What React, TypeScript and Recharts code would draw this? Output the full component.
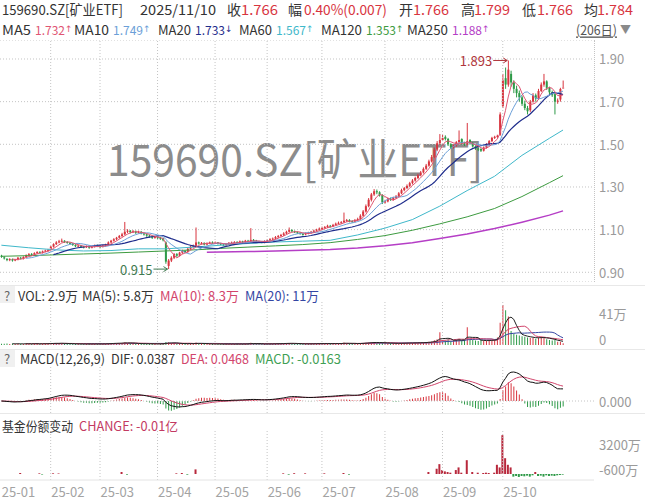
import React from "react";
import { Bar, CartesianGrid, Cell, ComposedChart, Line, ReferenceDot, ReferenceLine, XAxis, YAxis } from "recharts";

// ---- data ----
const monthLabels = ["25-01", "25-02", "25-03", "25-04", "25-05", "25-06", "25-07", "25-08", "25-09", "25-10", "25-11"];
const monthDays = [18, 18, 21, 21, 19, 20, 23, 21, 22, 17, 6];

const open = [
  0.978, 0.970, 0.963, 0.957, 0.962, 0.955, 0.960, 0.968, 0.964, 0.972, 0.980, 0.986, 0.982, 0.990, 0.996, 0.992, 0.998, 1.002,
  1.008, 1.020, 1.032, 1.040, 1.045, 1.048, 1.042, 1.038, 1.035, 1.028, 1.022, 1.025, 1.020, 1.018, 1.022, 1.015, 1.020, 1.025,
  1.022, 1.020, 1.025, 1.030, 1.040, 1.048, 1.055, 1.062, 1.070, 1.078, 1.090, 1.095, 1.088, 1.092, 1.085, 1.090, 1.082, 1.078, 1.072, 1.068, 1.062,
  1.065, 1.060, 1.058, 1.040, 0.930, 0.955, 0.968, 0.985, 0.978, 0.992, 1.000, 0.995, 1.010, 1.020, 1.025, 1.040, 1.035, 1.038, 1.030, 1.035, 1.040,
  1.038, 1.040, 1.035, 1.030, 1.028, 1.032, 1.038, 1.040, 1.042, 1.038, 1.045, 1.042, 1.048, 1.045, 1.052, 1.048, 1.045, 1.042, 1.040,
  1.045, 1.050, 1.055, 1.058, 1.065, 1.070, 1.075, 1.082, 1.090, 1.098, 1.092, 1.088, 1.085, 1.080, 1.078, 1.082, 1.085, 1.090, 1.095, 1.100,
  1.105, 1.108, 1.112, 1.118, 1.115, 1.122, 1.128, 1.132, 1.135, 1.142, 1.145, 1.140, 1.138, 1.145, 1.150, 1.165, 1.185, 1.210, 1.240, 1.265, 1.280, 1.275, 1.262,
  1.228, 1.232, 1.245, 1.240, 1.248, 1.255, 1.270, 1.285, 1.295, 1.305, 1.318, 1.330, 1.342, 1.355, 1.368, 1.385, 1.400, 1.420, 1.440, 1.475, 1.505,
  1.520, 1.535, 1.525, 1.500, 1.485, 1.495, 1.510, 1.525, 1.505, 1.500, 1.520, 1.505, 1.490, 1.480, 1.478, 1.470, 1.485, 1.500, 1.515, 1.530, 1.535, 1.545,
  1.680, 1.810, 1.780, 1.830, 1.790, 1.760, 1.740, 1.720, 1.690, 1.670, 1.660, 1.700, 1.730, 1.715, 1.750, 1.780, 1.795,
  1.765, 1.745, 1.735, 1.700, 1.710, 1.766,
];
const high = [
  0.982, 0.975, 0.966, 0.966, 0.964, 0.963, 0.972, 0.972, 0.975, 0.984, 0.990, 0.990, 0.994, 0.999, 0.998, 1.002, 1.006, 1.010,
  1.024, 1.036, 1.046, 1.052, 1.058, 1.050, 1.046, 1.042, 1.038, 1.032, 1.030, 1.028, 1.024, 1.026, 1.025, 1.024, 1.030, 1.030,
  1.028, 1.028, 1.034, 1.045, 1.052, 1.060, 1.066, 1.075, 1.085, 1.136, 1.102, 1.098, 1.098, 1.096, 1.095, 1.093, 1.086, 1.082, 1.076, 1.072, 1.070,
  1.070, 1.066, 1.062, 1.045, 0.962, 0.975, 0.990, 0.990, 0.996, 1.006, 1.004, 1.014, 1.026, 1.030, 1.110, 1.044, 1.042, 1.040, 1.040, 1.044, 1.045,
  1.044, 1.042, 1.038, 1.034, 1.036, 1.042, 1.044, 1.046, 1.046, 1.049, 1.048, 1.052, 1.052, 1.107, 1.056, 1.052, 1.048, 1.046, 1.050,
  1.054, 1.060, 1.063, 1.070, 1.075, 1.080, 1.088, 1.095, 1.110, 1.102, 1.096, 1.092, 1.089, 1.085, 1.087, 1.090, 1.094, 1.100, 1.104, 1.110,
  1.114, 1.117, 1.123, 1.122, 1.127, 1.133, 1.138, 1.140, 1.180, 1.150, 1.149, 1.144, 1.150, 1.156, 1.172, 1.192, 1.218, 1.248, 1.272, 1.290, 1.288, 1.280, 1.266,
  1.240, 1.250, 1.250, 1.254, 1.262, 1.276, 1.292, 1.300, 1.312, 1.324, 1.337, 1.348, 1.362, 1.375, 1.392, 1.408, 1.428, 1.450, 1.485, 1.515, 1.548,
  1.545, 1.542, 1.530, 1.505, 1.500, 1.515, 1.565, 1.528, 1.512, 1.600, 1.524, 1.510, 1.495, 1.486, 1.482, 1.490, 1.505, 1.520, 1.535, 1.540, 1.545, 1.650,
  1.830, 1.860, 1.893, 1.845, 1.800, 1.775, 1.752, 1.728, 1.705, 1.680, 1.708, 1.740, 1.738, 1.760, 1.790, 1.830, 1.800,
  1.770, 1.752, 1.745, 1.715, 1.765, 1.799,
];
const low = [
  0.968, 0.960, 0.952, 0.952, 0.950, 0.952, 0.956, 0.960, 0.960, 0.968, 0.976, 0.978, 0.978, 0.986, 0.988, 0.988, 0.994, 0.998,
  1.004, 1.016, 1.028, 1.036, 1.040, 1.038, 1.034, 1.030, 1.024, 1.018, 1.018, 1.016, 1.012, 1.014, 1.010, 1.012, 1.016, 1.018,
  1.015, 1.016, 1.020, 1.026, 1.036, 1.044, 1.050, 1.058, 1.066, 1.074, 1.084, 1.082, 1.084, 1.080, 1.082, 1.078, 1.072, 1.066, 1.062, 1.056, 1.058,
  1.055, 1.052, 1.045, 0.940, 0.915, 0.948, 0.962, 0.972, 0.974, 0.986, 0.990, 0.992, 1.006, 1.016, 1.022, 1.030, 1.030, 1.026, 1.026, 1.032, 1.034,
  1.034, 1.030, 1.026, 1.024, 1.025, 1.029, 1.034, 1.036, 1.034, 1.035, 1.038, 1.039, 1.041, 1.042, 1.044, 1.040, 1.038, 1.036, 1.036,
  1.041, 1.046, 1.050, 1.054, 1.060, 1.066, 1.070, 1.078, 1.086, 1.088, 1.084, 1.080, 1.076, 1.072, 1.074, 1.078, 1.081, 1.086, 1.091, 1.096,
  1.100, 1.104, 1.108, 1.110, 1.112, 1.118, 1.124, 1.127, 1.130, 1.136, 1.134, 1.132, 1.134, 1.140, 1.146, 1.160, 1.180, 1.205, 1.232, 1.258, 1.266, 1.255, 1.220,
  1.222, 1.228, 1.235, 1.236, 1.244, 1.252, 1.266, 1.280, 1.290, 1.300, 1.312, 1.325, 1.337, 1.350, 1.363, 1.380, 1.395, 1.415, 1.435, 1.468, 1.498,
  1.515, 1.518, 1.492, 1.478, 1.480, 1.488, 1.502, 1.498, 1.492, 1.495, 1.498, 1.485, 1.474, 1.468, 1.464, 1.466, 1.480, 1.495, 1.510, 1.525, 1.530, 1.540,
  1.670, 1.760, 1.770, 1.770, 1.740, 1.720, 1.700, 1.680, 1.660, 1.640, 1.652, 1.695, 1.700, 1.708, 1.745, 1.770, 1.755,
  1.735, 1.722, 1.640, 1.690, 1.700, 1.766,
];
const close = [
  0.972, 0.965, 0.958, 0.962, 0.955, 0.960, 0.968, 0.965, 0.972, 0.980, 0.985, 0.982, 0.990, 0.995, 0.992, 0.998, 1.002, 1.005,
  1.020, 1.032, 1.040, 1.045, 1.048, 1.042, 1.038, 1.035, 1.028, 1.022, 1.025, 1.020, 1.018, 1.022, 1.015, 1.020, 1.025, 1.022,
  1.020, 1.025, 1.030, 1.040, 1.048, 1.055, 1.062, 1.070, 1.078, 1.090, 1.095, 1.088, 1.092, 1.085, 1.090, 1.082, 1.078, 1.072, 1.068, 1.062, 1.065,
  1.060, 1.058, 1.050, 0.950, 0.955, 0.968, 0.985, 0.978, 0.992, 1.000, 0.995, 1.010, 1.020, 1.025, 1.040, 1.035, 1.038, 1.030, 1.035, 1.040, 1.038,
  1.040, 1.035, 1.030, 1.028, 1.032, 1.038, 1.040, 1.042, 1.038, 1.045, 1.042, 1.048, 1.045, 1.052, 1.048, 1.045, 1.042, 1.040, 1.045,
  1.050, 1.055, 1.058, 1.065, 1.070, 1.075, 1.082, 1.090, 1.098, 1.092, 1.088, 1.085, 1.080, 1.078, 1.082, 1.085, 1.090, 1.095, 1.100, 1.105,
  1.108, 1.112, 1.118, 1.115, 1.122, 1.128, 1.132, 1.135, 1.142, 1.145, 1.140, 1.138, 1.145, 1.150, 1.165, 1.185, 1.210, 1.240, 1.265, 1.280, 1.275, 1.262, 1.228,
  1.232, 1.245, 1.240, 1.248, 1.255, 1.270, 1.285, 1.295, 1.305, 1.318, 1.330, 1.342, 1.355, 1.368, 1.385, 1.400, 1.420, 1.440, 1.475, 1.505, 1.520,
  1.530, 1.525, 1.500, 1.485, 1.495, 1.510, 1.520, 1.505, 1.500, 1.515, 1.505, 1.490, 1.480, 1.475, 1.470, 1.485, 1.500, 1.515, 1.530, 1.535, 1.540, 1.640,
  1.800, 1.780, 1.850, 1.790, 1.760, 1.740, 1.720, 1.690, 1.670, 1.655, 1.700, 1.730, 1.715, 1.750, 1.780, 1.795, 1.765,
  1.744, 1.730, 1.700, 1.705, 1.759, 1.766,
];
const avgPrice = 1.784;

// volume, 万
const volume = [
  2.1, 1.8, 2.4, 1.6, 2.0, 1.5, 2.2, 1.8, 1.6, 2.5, 2.0, 1.7, 2.3, 1.9, 1.6, 2.0, 2.4, 2.2,
  3.0, 2.6, 2.8, 2.4, 3.1, 2.2, 1.9, 1.8, 2.0, 1.7, 1.6, 1.8, 1.5, 1.7, 1.9, 1.6, 1.8, 1.7,
  1.6, 1.8, 2.0, 2.6, 2.8, 3.0, 2.7, 2.9, 3.2, 4.5, 3.3, 2.6, 2.4, 2.2, 2.0, 2.1, 1.9, 2.0, 1.8, 2.0, 1.7,
  1.8, 1.9, 2.2, 4.8, 4.2, 3.0, 2.6, 2.2, 2.4, 2.1, 1.9, 2.0, 2.3, 2.2, 3.8, 2.4, 2.0, 1.8, 1.7, 1.9, 1.6,
  1.7, 1.6, 1.8, 1.5, 1.6, 1.8, 1.7, 1.5, 1.6, 1.9, 1.7, 1.8, 1.9, 3.5, 2.2, 1.8, 1.6, 1.5, 1.7,
  1.9, 2.0, 1.8, 2.2, 2.1, 2.4, 2.6, 2.8, 3.0, 2.4, 2.1, 1.9, 1.8, 1.7, 1.8, 1.9, 2.0, 2.2, 2.1, 2.3,
  2.2, 2.4, 2.3, 2.0, 2.2, 2.5, 2.3, 2.4, 3.8, 2.6, 2.2, 2.0, 2.3, 2.4, 2.8, 3.2, 3.6, 4.0, 4.4, 4.2, 3.6, 3.2, 3.8,
  3.0, 2.8, 2.6, 2.5, 2.7, 2.9, 3.1, 3.0, 3.2, 3.4, 3.3, 3.5, 3.6, 3.8, 4.0, 4.4, 5.0, 5.6, 7.5, 9.0, 20.0,
  8.0, 7.0, 9.0, 6.5, 7.0, 8.0, 10.0, 7.0, 8.0, 28.0, 9.0, 8.0, 7.0, 6.5, 8.0, 7.0, 6.5, 7.0, 8.0, 9.0, 12.0, 35.0,
  63, 55, 45, 22, 18, 16, 15, 14, 13, 12, 11, 12, 10, 12, 13, 12, 9,
  8, 7, 9, 5, 5, 2.9,
];

// fund share change, 万
const fundChange = [
  0, 0, 0, 0, 0, 0, 0, 150, 0, 0, 0, 0, 0, 0, 100, -80, 0, 0,
  0, 100, 0, 80, 0, 0, 0, 0, 0, 0, 0, 0, 0, 0, 0, 0, 0, 0,
  0, 0, 0, 0, 0, 0, 0, 0, 300, 0, -100, 0, 0, 0, 0, 0, 0, 0, 0, 0, 0,
  0, 0, 0, 0, 0, 0, 0, 100, 0, 150, 0, -100, 0, 0, 700, 0, 0, 0, 0, 0, 0,
  0, 0, 0, 0, 0, 0, 0, 0, 0, 0, 0, 0, 0, 0, 0, 0, 0, 0, 0,
  0, 0, 0, 0, 0, 0, 100, 0, -100, 0, 120, 0, 0, 0, 100, 0, 0, 0, 0, 0,
  0, 100, 0, 0, 0, 0, 0, 0, 150, 0, -100, 0, 0, 0, 0, 0, 0, 0, 0, 0, 0, 0, 0,
  0, 0, 0, 0, 0, 0, 0, 0, 0, 0, 0, 0, 0, 0, 0, 0, 300, 0, 0, 800, 1500,
  600, 400, 300, 200, 0, 600, 1000, 200, 0, 2100, 0, 300, 0, 200, 0, 150, 200, 150, 0, 200, 1400, 1000,
  5900, 2400, 1400, 1000, -400, -300, -450, -300, -350, -250, -400, -200, 300, -300, -250, -400, -200,
  -300, -250, -300, -200, -150, -100,
];

// long moving averages, read at sample days (history before Jan is not in the picture)
const maSampleDays = [0, 10, 20, 30, 40, 50, 60, 70, 75, 80, 90, 100, 110, 120, 130, 140, 150, 160, 170, 180, 190, 200, 205];
const ma60Samples = [1.027, 1.015, 1.005, 1.0, 1.002, 1.01, 1.01, 1.018, 1.022, 1.027, 1.035, 1.042, 1.046, 1.05, 1.075, 1.107, 1.147, 1.21, 1.283, 1.35, 1.448, 1.528, 1.567];
const ma120Samples = [0.975, 0.978, 0.982, 0.986, 0.99, 0.995, 1.0, 1.005, 1.008, 1.012, 1.018, 1.024, 1.03, 1.039, 1.054, 1.072, 1.097, 1.127, 1.16, 1.199, 1.255, 1.32, 1.353];
const ma250Samples = [null, null, null, null, null, null, null, null, 0.994, 0.995, 0.997, 1.0, 1.003, 1.007, 1.014, 1.024, 1.038, 1.058, 1.08, 1.105, 1.135, 1.168, 1.188];

const priceTicks = [0.9, 1.1, 1.3, 1.5, 1.7, 1.9];
const macdText = { dif: "0.0387", dea: "0.0468", macd: "-0.0163" };

// ---- layout / style ----
const W = 645;
const AXIS_W = 51;
const PAD_R = 29.6;
const RED = "#d8353f";
const GREEN = "#2e9a48";
const GRID = "#c4c4c4";
const FONT = '"Noto Sans CJK SC", "Noto Sans", sans-serif';
const C = {
  ma5: "#e05573", ma10: "#6b9fd8", ma20: "#1f2d8c", ma60: "#3fb8ca", ma120: "#3d9b40", ma250: "#b53ec6",
  vma10: "#d2456c", vma20: "#3446a3", dea: "#d2456c", text: "#333", axis: "#9a9a9a",
};

// ---- derived table ----
const sum = (a: number[]) => a.reduce((s, v) => s + v, 0);
const sma = (a: number[], n: number, i: number) => (i < n - 1 ? null : sum(a.slice(i - n + 1, i + 1)) / n);
const ema = (a: number[], n: number) => {
  const k = 2 / (n + 1);
  const out: number[] = [];
  a.forEach((v, i) => out.push(i === 0 ? v : v * k + out[i - 1] * (1 - k)));
  return out;
};

const monthStarts: number[] = [];
monthDays.reduce((acc, n) => {
  monthStarts.push(acc);
  return acc + n;
}, 0);
const gridMonths = monthStarts.slice(1, 10);
const labelMonths = monthStarts.slice(0, 10);

const e12 = ema(close, 12);
const e26 = ema(close, 26);
const dif = e12.map((v, i) => v - e26[i]);
const dea = ema(dif, 9);

const rows: any[] = close.map((c, i) => ({
  i,
  o: open[i],
  h: high[i],
  l: low[i],
  c,
  range: [low[i], high[i]],
  up: c >= open[i],
  ma5: sma(close, 5, i),
  ma10: sma(close, 10, i),
  ma20: sma(close, 20, i),
  ma60: null,
  ma120: null,
  ma250: null,
  vol: volume[i],
  vma5: sma(volume, 5, i),
  vma10: sma(volume, 10, i),
  vma20: sma(volume, 20, i),
  dif: dif[i],
  dea: dea[i],
  hist: 2 * (dif[i] - dea[i]),
  fund: fundChange[i],
}));
maSampleDays.forEach((d, k) => {
  rows[d].ma60 = ma60Samples[k];
  rows[d].ma120 = ma120Samples[k];
  rows[d].ma250 = ma250Samples[k];
});

const N = rows.length;
const last = rows[N - 1];
const prev = rows[N - 2];
const arrow = (a: number, b: number) => (a >= b ? "↑" : "↓");
const peakIdx = high.indexOf(Math.max(...high));
const troughIdx = low.indexOf(Math.min(...low));
const fmtVol = (v: number) => (v >= 10 ? `${Math.round(v)}万` : `${v.toFixed(1)}万`);

// ---- pieces ----
function Candle(props: any) {
  const { x, y, width, height, payload } = props;
  if (!payload || height == null) return null;
  const { o, c, h, l } = payload;
  const color = c >= o ? RED : GREEN;
  const k = h === l ? 0 : height / (h - l);
  const top = y + (h - Math.max(o, c)) * k;
  const bh = Math.max(1, Math.abs(o - c) * k);
  const cx = x + width / 2;
  return (
    <g>
      <line x1={cx} x2={cx} y1={y} y2={y + height} stroke={color} strokeWidth={1} />
      <rect x={cx - 1} y={top} width={2} height={bh} fill={color} />
    </g>
  );
}

const AxisLabel = ({ y, text, dy = 0 }: any) => (
  <text x={599} y={y + dy} fill={C.axis} fontSize={13} fontFamily={FONT} dominantBaseline="central">
    {text}
  </text>
);

const ExtremeLabel = ({ viewBox, text, color }: any) => {
  const cx = viewBox.x + (viewBox.width || 0) / 2;
  const cy = viewBox.y + (viewBox.height || 0) / 2;
  return (
    <g>
      <line x1={cx - 15} x2={cx - 1} y1={cy} y2={cy} stroke={color} strokeWidth={1} />
      <path d={`M${cx - 5},${cy - 2.5} L${cx - 1},${cy} L${cx - 5},${cy + 2.5}`} fill="none" stroke={color} />
      <text x={cx - 16} y={cy} textAnchor="end" dominantBaseline="central" fill={color} fontSize={13} fontFamily={FONT}>
        {text}
      </text>
    </g>
  );
};

const hiddenX = <XAxis dataKey="i" type="category" hide padding={{ left: 0, right: PAD_R }} />;
const monthGrid = gridMonths.map((m) => (
  <ReferenceLine key={m} x={m} stroke={GRID} strokeDasharray="1 2" />
));
const margin = { top: 0, right: 0, bottom: 0, left: 0 };

// text helper; w fixes the drawn width so pieces sit where the picture has them
function T({ x, y, c = C.text, s = 13, w, children, u }: any) {
  return (
    <text
      x={x}
      y={y}
      fill={c}
      fontSize={s}
      fontFamily={FONT}
      dominantBaseline="central"
      textLength={w}
      lengthAdjust={w ? "spacingAndGlyphs" : undefined}
      textDecoration={u ? "underline" : undefined}
    >
      {children}
    </text>
  );
}

// MA legend value: number followed by a small trend arrow
function MaValue({ x, v, up, c }: any) {
  return (
    <text x={x} y={29} fill={c} fontSize={12} fontFamily={FONT} dominantBaseline="central">
      {v.toFixed(3)}
      <tspan fontSize={9} fontFamily='"DejaVu Sans", sans-serif'>{up ? "↑" : "↓"}</tspan>
    </text>
  );
}

export default function App() {
  const chg = last.c - prev.c;
  const pct = (chg / prev.c) * 100;
  return (
    <div style={{ position: "absolute", left: 0, top: 0, width: W, height: 502, background: "#fff", overflow: "hidden" }}>
      {/* watermark */}
      <svg width={W} height={502} style={{ position: "absolute", left: 0, top: 0 }}>
        <text x={107} y={176} fontSize={44} fill="#8c8c8c" fontFamily={FONT} textLength={376} lengthAdjust="spacingAndGlyphs">
          159690.SZ[矿业ETF]
        </text>
      </svg>

      {/* separators */}
      {[285, 349, 413].map((t) => (
        <div key={t} style={{ position: "absolute", left: 0, top: t, width: W, height: 1, background: "#e8e8e8" }} />
      ))}
      <div style={{ position: "absolute", left: 594, top: 40, height: 242, borderLeft: `1px dotted ${GRID}` }} />

      {/* price panel */}
      <div style={{ position: "absolute", left: 0, top: 40 }}>
        <ComposedChart width={W} height={242} data={rows} margin={margin} barCategoryGap={0}>
          {hiddenX}
          <YAxis
            orientation="right"
            width={AXIS_W}
            domain={[0.8545, 1.989]}
            ticks={priceTicks}
            interval={0}
            allowDataOverflow
            axisLine={false}
            tickLine={false}
            tick={(p: any) => <AxisLabel y={p.y} text={Number(p.payload.value).toFixed(2)} />}
          />
          <CartesianGrid vertical={false} stroke={GRID} strokeDasharray="1 2" />
          {monthGrid}
          <Bar dataKey="range" shape={(p: any) => <Candle {...p} />} isAnimationActive={false} />
          <Line dataKey="ma250" stroke={C.ma250} strokeWidth={1.5} dot={false} activeDot={false} connectNulls isAnimationActive={false} />
          <Line dataKey="ma120" stroke={C.ma120} strokeWidth={1} dot={false} activeDot={false} connectNulls isAnimationActive={false} />
          <Line dataKey="ma60" stroke={C.ma60} strokeWidth={1} dot={false} activeDot={false} connectNulls isAnimationActive={false} />
          <Line dataKey="ma20" stroke={C.ma20} strokeWidth={1.2} dot={false} activeDot={false} isAnimationActive={false} />
          <Line dataKey="ma10" stroke={C.ma10} strokeWidth={1} dot={false} activeDot={false} isAnimationActive={false} />
          <Line dataKey="ma5" stroke={C.ma5} strokeWidth={1} dot={false} activeDot={false} isAnimationActive={false} />
          <ReferenceDot x={peakIdx} y={high[peakIdx]} r={0} stroke="none" label={<ExtremeLabel text={high[peakIdx].toFixed(3)} color="#b0363c" />} />
          <ReferenceDot x={troughIdx} y={low[troughIdx]} r={0} stroke="none" label={<ExtremeLabel text={low[troughIdx].toFixed(3)} color="#3f7a50" />} />
        </ComposedChart>
      </div>

      {/* volume panel */}
      <div style={{ position: "absolute", left: 0, top: 300 }}>
        <ComposedChart width={W} height={53} data={rows} margin={{ ...margin, bottom: 8 }}>
          {hiddenX}
          <YAxis
            orientation="right"
            width={AXIS_W}
            domain={[0, 71]}
            ticks={[0, 41]}
            interval={0}
            allowDataOverflow
            axisLine={false}
            tickLine={false}
            tick={(p: any) => <AxisLabel y={p.y} dy={-6} text={p.payload.value === 0 ? "0" : `${p.payload.value}万`} />}
          />
          {monthGrid}
          <Bar dataKey="vol" barSize={1} isAnimationActive={false}>
            {rows.map((r) => (
              <Cell key={r.i} fill={r.up ? RED : GREEN} />
            ))}
          </Bar>
          <Line dataKey="vma20" stroke={C.vma20} strokeWidth={1} dot={false} activeDot={false} isAnimationActive={false} />
          <Line dataKey="vma10" stroke={C.vma10} strokeWidth={1} dot={false} activeDot={false} isAnimationActive={false} />
          <Line dataKey="vma5" stroke="#222" strokeWidth={1} dot={false} activeDot={false} isAnimationActive={false} />
        </ComposedChart>
      </div>

      {/* MACD panel */}
      <div style={{ position: "absolute", left: 0, top: 366 }}>
        <ComposedChart width={W} height={47} data={rows} margin={margin}>
          {hiddenX}
          <YAxis
            orientation="right"
            width={AXIS_W}
            domain={[-0.0387, 0.1129]}
            ticks={[0]}
            interval={0}
            allowDataOverflow
            axisLine={false}
            tickLine={false}
            tick={(p: any) => <AxisLabel y={p.y} text="0.000" />}
          />
          {monthGrid}
          <ReferenceLine y={0} stroke={GRID} strokeDasharray="1 2" />
          <Bar dataKey="hist" barSize={1} isAnimationActive={false}>
            {rows.map((r) => (
              <Cell key={r.i} fill={r.hist >= 0 ? RED : GREEN} />
            ))}
          </Bar>
          <Line dataKey="dea" stroke={C.dea} strokeWidth={1} dot={false} activeDot={false} isAnimationActive={false} />
          <Line dataKey="dif" stroke="#111" strokeWidth={1} dot={false} activeDot={false} isAnimationActive={false} />
        </ComposedChart>
      </div>

      {/* fund share change panel */}
      <div style={{ position: "absolute", left: 0, top: 430 }}>
        <ComposedChart width={W} height={70} data={rows} margin={margin}>
          <XAxis
            dataKey="i"
            type="category"
            padding={{ left: 0, right: PAD_R }}
            height={20}
            ticks={labelMonths}
            interval={0}
            axisLine={{ stroke: "#e4e4e4" }}
            tickLine={false}
            tick={(p: any) => (
              <text x={p.x + 0.5} y={61} fill="#a3a3a3" fontSize={13} fontFamily={FONT} textAnchor="start" dominantBaseline="central">
                {monthLabels[monthStarts.indexOf(p.payload.value)]}
              </text>
            )}
          />
          <YAxis
            orientation="right"
            width={AXIS_W}
            domain={[-912, 6687]}
            ticks={[-600, 3200]}
            interval={0}
            allowDataOverflow
            axisLine={false}
            tickLine={false}
            tick={(p: any) => <AxisLabel y={p.y} dy={-8} text={`${p.payload.value}万`} />}
          />
          {monthGrid}
          <Bar dataKey="fund" barSize={2} isAnimationActive={false}>
            {rows.map((r) => (
              <Cell key={r.i} fill={r.fund >= 0 ? "#b8283c" : GREEN} />
            ))}
          </Bar>
        </ComposedChart>
      </div>

      {/* header & legends */}
      <svg width={W} height={502} style={{ position: "absolute", left: 0, top: 0, pointerEvents: "none" }}>
        <T x={2} y={9} s={14} w={121}>159690.SZ[矿业ETF]</T>
        <T x={140} y={9} s={14} w={76}>2025/11/10</T>
        <T x={227} y={9} s={14}>收</T>
        <T x={241} y={9} s={14} w={37} c={RED}>{last.c.toFixed(3)}</T>
        <T x={288} y={9} s={14}>幅</T>
        <T x={304} y={9} s={14} w={83} c={RED}>{`${pct.toFixed(2)}%(${chg.toFixed(3)})`}</T>
        <T x={399} y={9} s={14}>开</T>
        <T x={413} y={9} s={14} w={36} c={RED}>{last.o.toFixed(3)}</T>
        <T x={461} y={9} s={14}>高</T>
        <T x={474} y={9} s={14} w={36} c={RED}>{last.h.toFixed(3)}</T>
        <T x={522} y={9} s={14}>低</T>
        <T x={537} y={9} s={14} w={36} c={RED}>{last.l.toFixed(3)}</T>
        <T x={584} y={9} s={14}>均</T>
        <T x={597} y={9} s={14} w={36} c={RED}>{avgPrice.toFixed(3)}</T>

        <T x={2} y={29} w={29}>MA5</T>
        <MaValue x={35} v={last.ma5} up={last.ma5 >= prev.ma5} c={C.ma5} />
        <T x={74} y={29} w={35}>MA10</T>
        <MaValue x={113} v={last.ma10} up={last.ma10 >= prev.ma10} c={C.ma10} />
        <T x={158} y={29} w={33}>MA20</T>
        <MaValue x={195} v={last.ma20} up={last.ma20 >= prev.ma20} c={C.ma20} />
        <T x={239} y={29} w={33}>MA60</T>
        <MaValue x={276} v={ma60Samples[ma60Samples.length - 1]} up c={C.ma60} />
        <T x={321} y={29} w={41}>MA120</T>
        <MaValue x={366} v={ma120Samples[ma120Samples.length - 1]} up c={C.ma120} />
        <T x={407} y={29} w={41}>MA250</T>
        <MaValue x={452} v={ma250Samples[ma250Samples.length - 1]} up c={C.ma250} />
        <T x={576} y={29} w={41} c="#555" u>{`(${N}日)`}</T>
        <T x={620} y={29} c="#8a8a8a" s={11}>▼</T>

        <rect x={0} y={286} width={15} height={17} fill="#f0f0f0" />
        <T x={4} y={295} c="#666">?</T>
        <T x={18} y={295} w={60}>{`VOL: ${fmtVol(last.vol)}`}</T>
        <T x={82} y={295} w={72}>{`MA(5): ${fmtVol(last.vma5)}`}</T>
        <T x={160} y={295} w={79} c={C.vma10}>{`MA(10): ${fmtVol(last.vma10)}`}</T>
        <T x={245} y={295} w={74} c={C.vma20}>{`MA(20): ${fmtVol(last.vma20)}`}</T>

        <rect x={0} y={350} width={15} height={17} fill="#f0f0f0" />
        <T x={4} y={358} c="#666">?</T>
        <T x={20} y={358} w={85}>MACD(12,26,9)</T>
        <T x={111} y={358} w={64}>{`DIF: ${macdText.dif}`}</T>
        <T x={181} y={358} w={68} c={C.dea}>{`DEA: ${macdText.dea}`}</T>
        <T x={255} y={358} w={86} c="#3f9f55">{`MACD: ${macdText.macd}`}</T>

        <T x={2} y={425} w={71}>基金份额变动</T>
        <T x={79} y={425} w={99} c="#c33a62">{`CHANGE: ${(last.fund / 10000).toFixed(2)}亿`}</T>
      </svg>
    </div>
  );
}
